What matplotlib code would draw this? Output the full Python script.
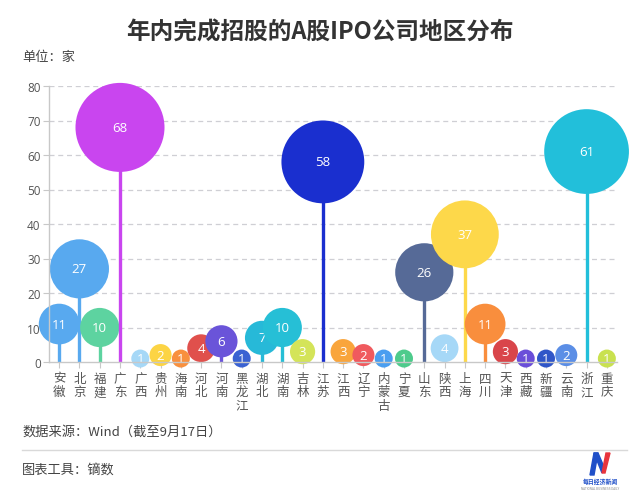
import numpy as np
import matplotlib
matplotlib.use("Agg")
import matplotlib.pyplot as plt
from matplotlib.patches import Polygon

plt.rcParams['font.family'] = ['Noto Sans CJK SC', 'DejaVu Sans']

categories = ['安徽', '北京', '福建', '广东', '广西', '贵州', '海南', '河北', '河南', '黑龙江',
              '湖北', '湖南', '吉林', '江苏', '江西', '辽宁', '内蒙古', '宁夏', '山东', '陕西',
              '上海', '四川', '天津', '西藏', '新疆', '云南', '浙江', '重庆']
values = [11, 27, 10, 68, 1, 2, 1, 4, 6, 1,
          7, 10, 3, 58, 3, 2, 1, 1, 26, 4,
          37, 11, 3, 1, 1, 2, 61, 1]
colors = ['#58a9ef', '#58a9ef', '#5dd3a0', '#c945ef', '#a6d8f7', '#fcd444', '#f8903e', '#e0504c',
          '#6a54d9', '#3a62d2', '#27b9d8', '#26bfd6', '#d4e459', '#1a2fcf', '#f9a53c', '#f05a5e',
          '#4a9ef0', '#4ecb8c', '#566a97', '#a6d8f7', '#fdd84a', '#f98e3d', '#d9454a', '#6a4ed9',
          '#3056c8', '#5b8ee6', '#22bfda', '#c9e14f']
yticks = [0, 10, 20, 30, 40, 50, 60, 70, 80]

W, H = 640, 502
fig = plt.figure(figsize=(W / 100, H / 100), dpi=100)

def fx(x):
    return x / W

def fy(y):
    return 1 - y / H

ax_left, ax_right, ax_top, ax_bottom = 49, 617, 87, 363
ax = fig.add_axes([fx(ax_left), fy(ax_bottom), (ax_right - ax_left) / W, (ax_bottom - ax_top) / H])

x = np.arange(len(categories))
ax.set_xlim(-0.5, len(categories) - 0.5)
ax.set_ylim(0, 80)

for yv in yticks[1:]:
    ax.axhline(yv, color='#cfcfd4', lw=0.9, ls=(0, (4, 3)), zorder=0)

for i, (v, c) in enumerate(zip(values, colors)):
    z = 2 + i * 0.01
    ax.plot([i, i], [0, v], color=c, lw=2.4, solid_capstyle='butt', zorder=z, clip_on=False)
    d_px = 8.2 + 9.8 * np.sqrt(v)
    ax.scatter([i], [v], s=(d_px * 0.72) ** 2, color=c, edgecolors='none', zorder=z + 0.001, clip_on=False)
    ax.text(i, v, str(v), color='white', ha='center', va='center', fontsize=9.5,
            zorder=z + 0.002, family=['Open Sans', 'DejaVu Sans'])

for s in ['top', 'right']:
    ax.spines[s].set_visible(False)
for s in ['left', 'bottom']:
    ax.spines[s].set_color('#c8c8c8')
    ax.spines[s].set_linewidth(1.0)

ax.set_yticks(yticks)
ax.set_yticklabels([str(t) for t in yticks], color='#555555', fontsize=8.5, family=['Open Sans', 'DejaVu Sans'])
ax.tick_params(axis='y', length=4, color='#c8c8c8', pad=2)
ax.set_xticks(x)
ax.set_xticklabels(['\n'.join(list(c)) for c in categories], color='#555555', fontsize=9,
                   linespacing=1.05)
ax.tick_params(axis='x', length=4, color='#c8c8c8', pad=3)

fig.text(0.5, fy(33), '年内完成招股的A股IPO公司地区分布', ha='center', va='center',
         fontsize=17, fontweight='bold', color='#333333')
fig.text(fx(22), fy(57), '单位：家', ha='left', va='center', fontsize=9.5, color='#444444')
fig.text(fx(22), fy(432), '数据来源：Wind（截至9月17日）', ha='left', va='center', fontsize=9.5, color='#444444')
fig.add_artist(plt.Line2D([fx(22), fx(627)], [fy(451), fy(451)], color='#d9d9d9', lw=1.0,
                          transform=fig.transFigure))
fig.text(fx(22), fy(470), '图表工具：镝数', ha='left', va='center', fontsize=9.5, color='#444444')

# logo
lax = fig.add_axes([fx(584), fy(478), 32 / W, 26 / H])
lax.set_xlim(0, 32)
lax.set_ylim(0, 26)
lax.axis('off')
lax.add_patch(Polygon([[6, 2], [10, 2], [14, 24], [10, 24]], closed=True, color='#1f4fc8'))
lax.add_patch(Polygon([[10, 24], [14, 24], [20, 10], [18, 4]], closed=True, color='#1f4fc8'))
lax.add_patch(Polygon([[18, 4], [21, 4], [26, 24], [22, 24]], closed=True, color='#e8343c'))
fig.text(fx(600), fy(482), '每日经济新闻', ha='center', va='center', fontsize=4.2,
         color='#1f4fc8', fontweight='bold')
fig.text(fx(600), fy(489), 'NATIONAL BUSINESS DAILY', ha='center', va='center', fontsize=2.2,
         color='#888888')

fig.savefig('out.png', dpi=100)
